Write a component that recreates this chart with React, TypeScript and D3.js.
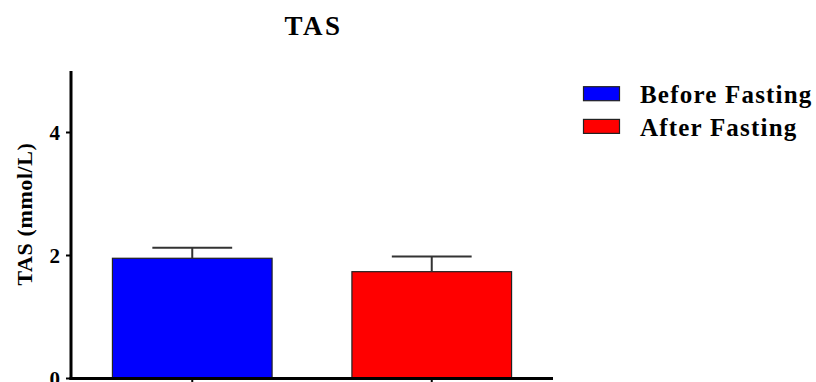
import React from "react";
import * as d3 from "d3";

const categories = ["Before Fasting", "After Fasting"];
const means = [1.955, 1.737];
const errors = [0.172, 0.245];
const colors = ["#0000ff", "#ff0000"];
const yTicks = [0, 2, 4];

const W = 816;
const H = 382;
const FONT = "Liberation Serif, Times New Roman, Times, DejaVu Serif, serif";
const textStyle: React.CSSProperties = { fontFamily: FONT, fontWeight: 700 };

export default function App() {
  const x = d3
    .scaleBand<string>()
    .domain(categories)
    .range([71, 553])
    .paddingInner(1 / 3)
    .paddingOuter(0.173);
  const y = d3.scaleLinear().domain([0, 5]).range([378.5, 71]);
  const axisX = 71;
  const baseY = y(0);
  const bw = x.bandwidth();

  return (
    <div style={{ position: "fixed", left: 0, top: 0 }}>
      <svg width={W} height={H} style={{ display: "block", background: "#fff" }}>
        <text x={313.5} y={35} textAnchor="middle" style={{ ...textStyle, fontSize: 27, letterSpacing: 2.5 }}>
          TAS
        </text>

        {/* bars */}
        {categories.map((c, i) => (
          <rect
            key={c}
            x={x(c)}
            y={y(means[i])}
            width={bw}
            height={baseY - y(means[i])}
            fill={colors[i]}
            stroke="#222"
            strokeWidth={1.2}
          />
        ))}

        {/* error bars (upper only) */}
        {categories.map((c, i) => {
          const cx = (x(c) as number) + bw / 2;
          const top = y(means[i] + errors[i]);
          return (
            <g key={c + "-err"} stroke="#333" strokeWidth={2} fill="none">
              <line x1={cx} x2={cx} y1={y(means[i])} y2={top} />
              <line x1={cx - bw / 4} x2={cx + bw / 4} y1={top} y2={top} />
            </g>
          );
        })}

        {/* y axis */}
        <line x1={axisX} x2={axisX} y1={y(5)} y2={baseY + 1.5} stroke="#000" strokeWidth={3} />
        {yTicks.map((t) => (
          <g key={t}>
            <line x1={axisX - 5} x2={axisX} y1={y(t)} y2={y(t)} stroke="#000" strokeWidth={2} />
            <text x={60} y={y(t)} dy="0.35em" textAnchor="end" style={{ ...textStyle, fontSize: 21 }}>
              {t}
            </text>
          </g>
        ))}

        {/* x axis */}
        <line x1={axisX - 1.5} x2={553} y1={baseY} y2={baseY} stroke="#000" strokeWidth={3} />
        {categories.map((c) => {
          const cx = (x(c) as number) + bw / 2;
          return <line key={c + "-t"} x1={cx} x2={cx} y1={baseY} y2={baseY + 6} stroke="#000" strokeWidth={2} />;
        })}

        <text
          transform={`translate(32,214) rotate(-90)`}
          textAnchor="middle"
          style={{ ...textStyle, fontSize: 22, letterSpacing: 0.6 }}
        >
          TAS (mmol/L)
        </text>

        {/* legend */}
        {categories.map((c, i) => (
          <g key={c + "-leg"} transform={`translate(583.5, ${86.7 + i * 32.7})`}>
            <rect width={36} height={14} fill={colors[i]} stroke="#222" strokeWidth={1.2} />
            <text x={56.5} y={16.3} style={{ ...textStyle, fontSize: 25, letterSpacing: 1.2 }}>
              {c}
            </text>
          </g>
        ))}
      </svg>
    </div>
  );
}
